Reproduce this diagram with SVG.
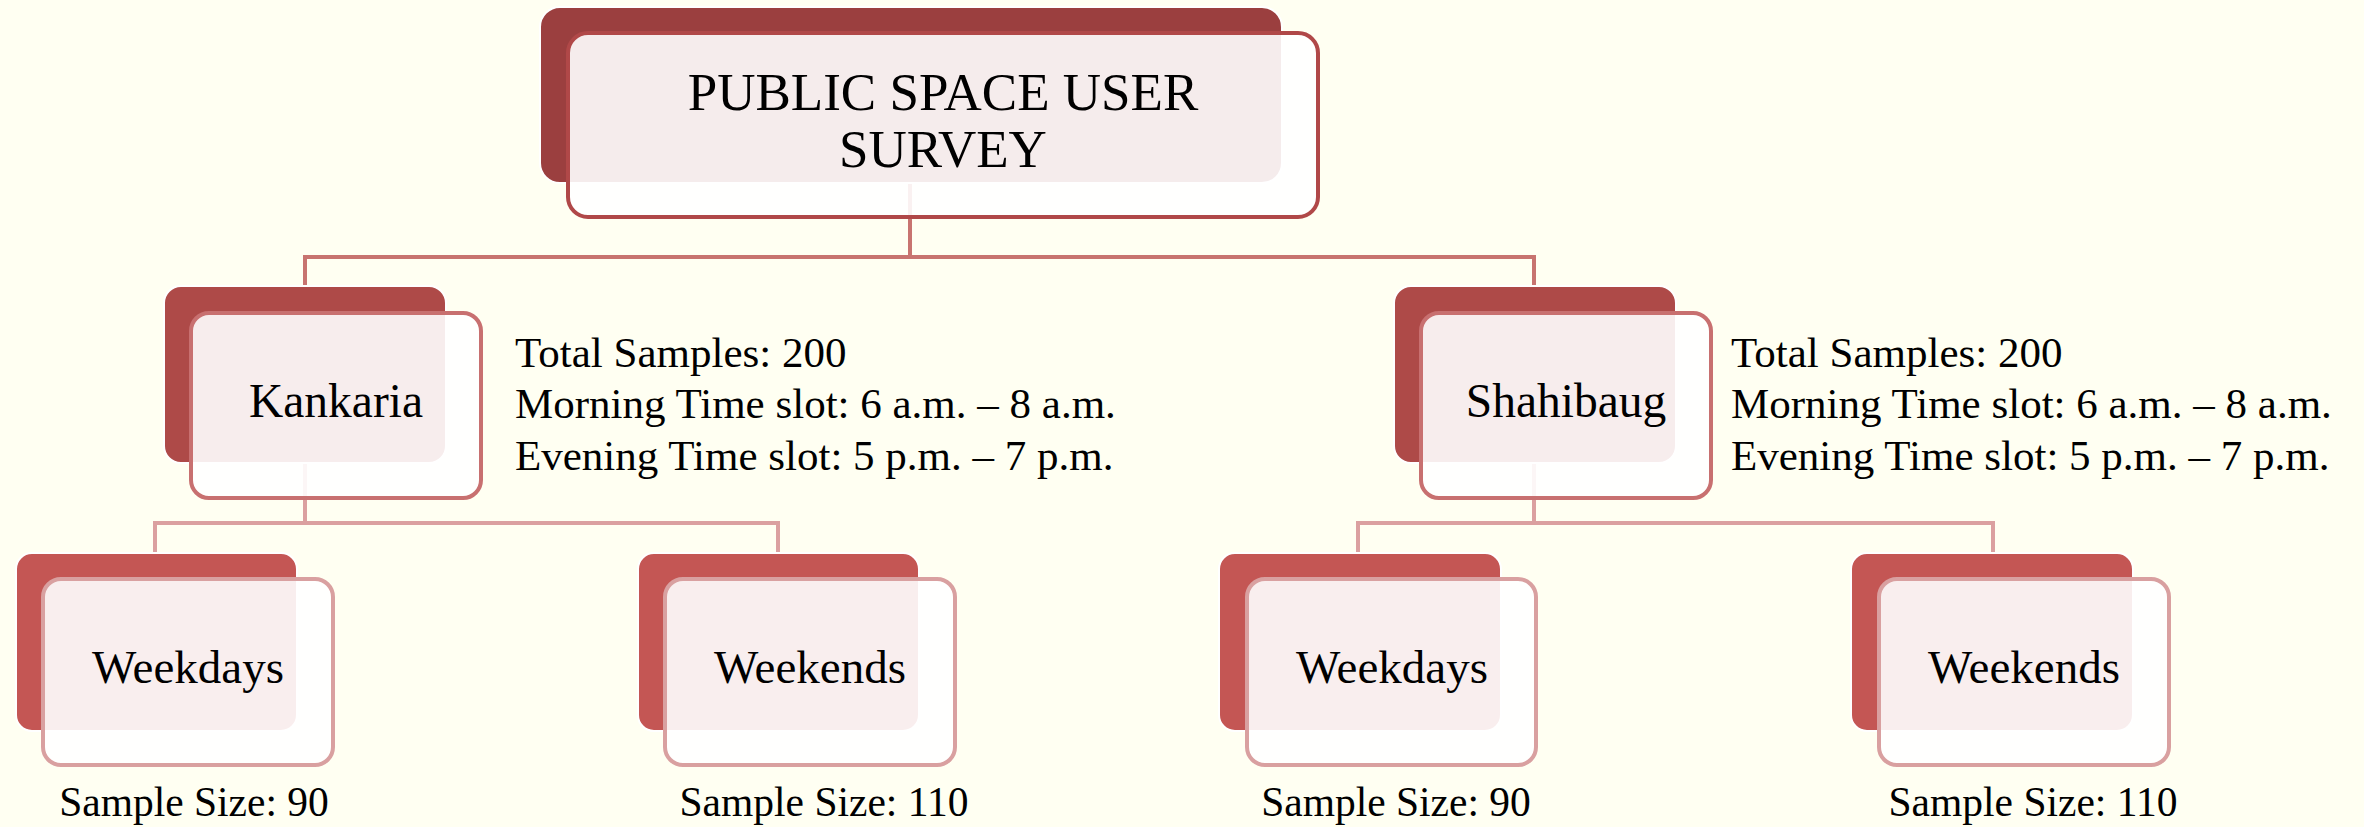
<svg xmlns="http://www.w3.org/2000/svg" width="2364" height="827" viewBox="0 0 2364 827">
<style>
text{font-family:"Liberation Serif","Times New Roman",serif;fill:#000}
.back{stroke:#ffffff;stroke-width:2}
.b1{fill:#9b3f3f}.b2{fill:#ae4a48}.b3{fill:#c45654}
.front{fill:#ffffff;fill-opacity:0.9;stroke-width:4}
.f1{stroke:#b04848}.f2{stroke:#c87070}.f3{stroke:#d9a0a0}
.c1{fill:none;stroke:#c87470;stroke-width:4}
.c2{fill:none;stroke:#dba0a0;stroke-width:4}
.title{font-size:53px;text-anchor:middle}
.l2{font-size:47.5px;text-anchor:middle}
.l3{font-size:47px;text-anchor:middle}
.info{font-size:43px}
.ss{font-size:41.5px;text-anchor:middle}
</style>
<rect width="2364" height="827" fill="#fffff2"/>
<g id="connectors">
<path class="c1" d="M910 183 V257 M305 257 H1535 M305 255 V287 M1534 255 V287"/>
<path class="c2" d="M305 463 V523 M155 523 H778 M155 521 V553 M778 521 V553"/>
<path class="c2" d="M1534 463 V523 M1358 523 H1993 M1358 521 V553 M1993 521 V553"/>
</g>
<g id="root">
<rect class="back b1" x="540" y="7" width="742" height="176" rx="20"/>
<rect class="front f1" x="568" y="33" width="750" height="184" rx="20"/>
<text class="title" x="943" y="110">PUBLIC SPACE USER</text>
<text class="title" x="943" y="167">SURVEY</text>
</g>
<g id="kankaria">
<rect class="back b2" x="164" y="286" width="282" height="177" rx="17"/>
<rect class="front f2" x="191" y="313" width="290" height="185" rx="18"/>
<text class="l2" x="336" y="417">Kankaria</text>
</g>
<g id="kankaria-info">
<text class="info" x="515" y="367">Total Samples: 200</text>
<text class="info" x="515" y="418">Morning Time slot: 6 a.m. – 8 a.m.</text>
<text class="info" x="515" y="470">Evening Time slot: 5 p.m. – 7 p.m.</text>
</g>
<g id="shahibaug">
<rect class="back b2" x="1394" y="286" width="282" height="177" rx="17"/>
<rect class="front f2" x="1421" y="313" width="290" height="185" rx="18"/>
<text class="l2" x="1566" y="417">Shahibaug</text>
</g>
<g id="shahibaug-info">
<text class="info" x="1731" y="367">Total Samples: 200</text>
<text class="info" x="1731" y="418">Morning Time slot: 6 a.m. – 8 a.m.</text>
<text class="info" x="1731" y="470">Evening Time slot: 5 p.m. – 7 p.m.</text>
</g>
<g id="k-weekdays">
<rect class="back b3" x="16" y="553" width="281" height="178" rx="16"/>
<rect class="front f3" x="43" y="579" width="290" height="186" rx="18"/>
<text class="l3" x="188" y="683">Weekdays</text>
<text class="ss" x="194" y="816">Sample Size: 90</text>
</g>
<g id="k-weekends">
<rect class="back b3" x="638" y="553" width="281" height="178" rx="16"/>
<rect class="front f3" x="665" y="579" width="290" height="186" rx="18"/>
<text class="l3" x="810" y="683">Weekends</text>
<text class="ss" x="824" y="816">Sample Size: 110</text>
</g>
<g id="s-weekdays">
<rect class="back b3" x="1219" y="553" width="282" height="178" rx="16"/>
<rect class="front f3" x="1247" y="579" width="289" height="186" rx="18"/>
<text class="l3" x="1392" y="683">Weekdays</text>
<text class="ss" x="1396" y="816">Sample Size: 90</text>
</g>
<g id="s-weekends">
<rect class="back b3" x="1851" y="553" width="282" height="178" rx="16"/>
<rect class="front f3" x="1879" y="579" width="290" height="186" rx="18"/>
<text class="l3" x="2024" y="683">Weekends</text>
<text class="ss" x="2033" y="816">Sample Size: 110</text>
</g>
</svg>
